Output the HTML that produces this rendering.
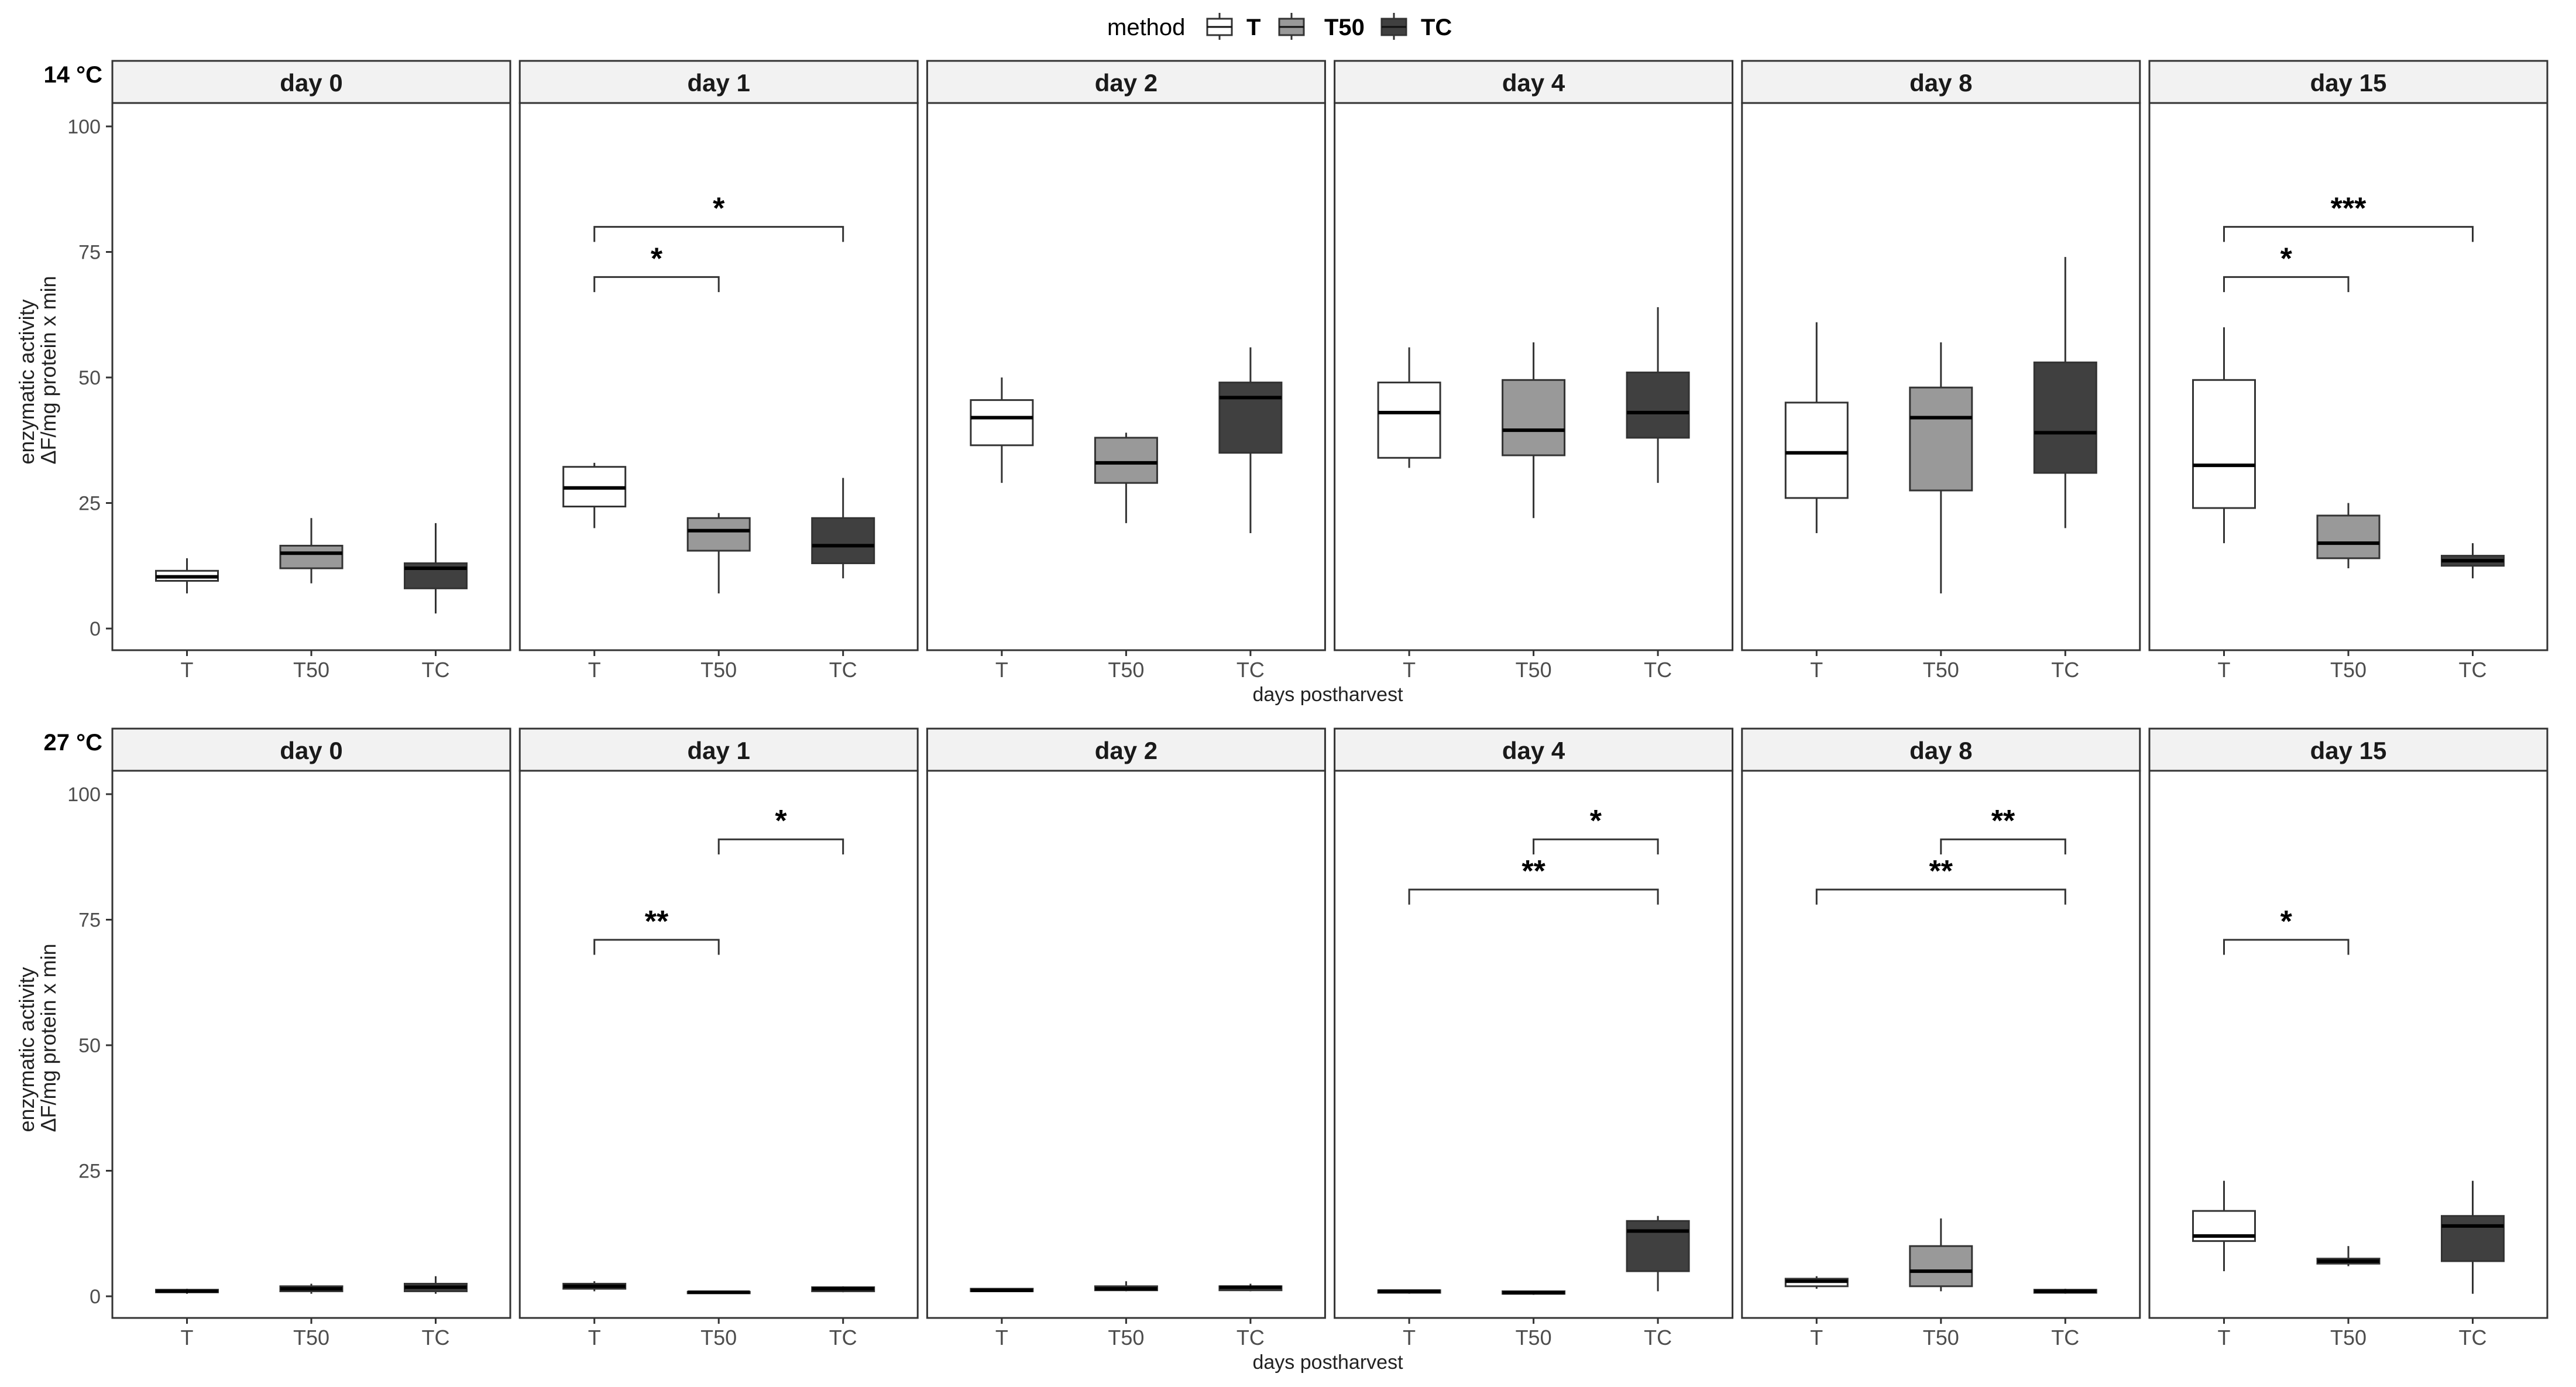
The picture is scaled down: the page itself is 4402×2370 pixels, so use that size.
<!DOCTYPE html>
<html><head><meta charset="utf-8"><style>
html,body{margin:0;padding:0;background:#fff;}
svg{display:block;font-family:"Liberation Sans",Arial,sans-serif;}
</style></head><body>
<svg id="chart" width="4402" height="2370" viewBox="0 0 4402 2370" xmlns="http://www.w3.org/2000/svg"></svg>
<script>
const days = ["day 0","day 1","day 2","day 4","day 8","day 15"];
const methods = ["T","T50","TC"];
const temps = ["14 °C","27 °C"];
const yTicks = [0,25,50,75,100];
// 14 °C: [day][method]
const lo14  = [[7,9,3],[20,7,10],[29,21,19],[32,22,29],[19,7,20],[17,12,10]];
const q1_14 = [[9.5,12,8],[24.3,15.5,13],[36.5,29,35],[34,34.5,38],[26,27.5,31],[24,14,12.5]];
const med14 = [[10.3,15,12],[28,19.5,16.5],[42,33,46],[43,39.5,43],[35,42,39],[32.5,17,13.5]];
const q3_14 = [[11.5,16.5,13],[32.2,22,22],[45.5,38,49],[49,49.5,51],[45,48,53],[49.5,22.5,14.5]];
const hi14  = [[14,22,21],[33,23,30],[50,39,56],[56,57,64],[61,57,74],[60,25,17]];
// 27 °C
const lo27  = [[0.5,0.5,0.5],[1,0.5,0.8],[1,1,1],[0.5,0.3,1],[1.5,1,0.5],[5,6,0.5]];
const q1_27 = [[0.8,1,1],[1.5,0.6,1],[1,1.2,1.2],[0.7,0.5,5],[2,2,0.7],[11,6.5,7]];
const med27 = [[1,1.5,1.8],[2,0.8,1.5],[1.2,1.5,1.8],[1,0.7,13],[3,5,1],[12,7,14]];
const q3_27 = [[1.3,2,2.5],[2.5,0.9,1.8],[1.5,2,2],[1.2,1,15],[3.5,10,1.3],[17,7.5,16]];
const hi27  = [[1.5,2.5,4],[3,1,2],[1.5,3,2.5],[1.2,1,16],[4,15.5,1.5],[23,10,23]];
// significance brackets
const sigRow   = [0,0,0,0,1,1,1,1,1,1,1];
const sigDay   = [1,1,5,5,1,1,3,3,4,4,5];
const sigFrom  = [0,0,0,0,0,1,0,1,0,1,0];
const sigTo    = [1,2,1,2,1,2,2,2,2,2,1];
const sigY     = [70,80,70,80,71,91,81,91,81,91,71];
const sigLabel = ["*","*","*","***","**","*","**","*","**","**","*"];

const svg = document.getElementById('chart');
const NS = "http://www.w3.org/2000/svg";
function mk(tag, attrs, parent, text){
  const e = document.createElementNS(NS, tag);
  for (const k in attrs) e.setAttribute(k, attrs[k]);
  if (text !== undefined) e.textContent = text;
  (parent||svg).appendChild(e);
  return e;
}
const fills = ["#ffffff","#999999","#404040"];
const PW = 680, PX0 = 192, PSTEP = 696.2;
const rowTop = [104, 1245];
const STRIP_H = 72;
const Y100 = [216, 1357], Y0 = [1074, 2215];
const PBOT = [1111, 2252];
function xPanel(d){ return PX0 + d*PSTEP; }
function xCat(d, m){ return xPanel(d) + PW*(0.6 + m)/3.2; }
function yVal(r, v){ return Y0[r] - (Y0[r]-Y100[r])*v/100; }
const BW = 106;

const lg = mk('g', {}, svg);


mk('text',{x:1892,y:60,'font-size':40,fill:'#000'},lg,'method');
const keyX = [2063,2186,2361], labX = [2130,2263,2428];
methods.forEach((m,i)=>{
  const g = mk('g',{},lg);
  
  
  mk('line',{x1:keyX[i]+21,x2:keyX[i]+21,y1:22,y2:68,stroke:'#333','stroke-width':3},g);
  mk('rect',{x:keyX[i],y:32,width:42,height:28,fill:fills[i],stroke:'#333','stroke-width':3},g);
  mk('line',{x1:keyX[i],x2:keyX[i]+42,y1:46,y2:46,stroke:'#111','stroke-width':3},g);
  mk('text',{x:labX[i],y:60,'font-size':40,'font-weight':'bold',fill:'#000'},g,m);
});

const los=[lo14,lo27], q1s=[q1_14,q1_27], meds=[med14,med27], q3s=[q3_14,q3_27], his=[hi14,hi27];

for (let r=0;r<2;r++){
  const t = mk('text',{x:175,y:rowTop[r]+37,'font-size':40,'font-weight':'bold','text-anchor':'end',fill:'#000'},svg,temps[r]);
  
  
  const cy = (rowTop[r]+STRIP_H+PBOT[r])/2;
  const yt = mk('text',{transform:`translate(58,${cy+150}) rotate(-90)`,'font-size':36,fill:'#222'},svg);
  
  
  mk('tspan',{x:0,y:0},yt,'enzymatic activity');
  mk('tspan',{x:0,y:37},yt,'ΔF/mg protein x min');
  yTicks.forEach(v=>{
    const y = yVal(r,v);
    const tl = mk('text',{x:172,y:y+12,'font-size':34,'text-anchor':'end',fill:'#4d4d4d'},svg,String(v));
    
    
    mk('line',{x1:181,x2:192,y1:y,y2:y,stroke:'#333','stroke-width':3},svg);
  });
  const xt = mk('text',{x:2269,y:PBOT[r]+87,'font-size':34,'text-anchor':'middle',fill:'#222'},svg,'days postharvest');
  
  

  for (let d=0; d<days.length; d++){
    const x0 = xPanel(d);
    const pg = mk('g',{},svg);
    
    
    const st = mk('rect',{x:x0,y:rowTop[r],width:PW,height:STRIP_H,fill:'#f2f2f2',stroke:'#333','stroke-width':3},pg);
    
    
    mk('text',{x:x0+PW/2,y:rowTop[r]+52,'font-size':42,'font-weight':'bold','text-anchor':'middle',fill:'#1a1a1a'},pg,days[d]);
    mk('rect',{x:x0,y:rowTop[r]+STRIP_H,width:PW,height:PBOT[r]-rowTop[r]-STRIP_H,fill:'#fff',stroke:'#333','stroke-width':3},pg);
    for (let m=0;m<3;m++){
      const cx = xCat(d,m);
      mk('line',{x1:cx,x2:cx,y1:PBOT[r],y2:PBOT[r]+10,stroke:'#333','stroke-width':3},pg);
      const xl = mk('text',{x:cx,y:PBOT[r]+46,'font-size':36,'text-anchor':'middle',fill:'#4d4d4d'},pg,methods[m]);
      
      
      const bg = mk('g',{},pg);
      
      
      const yl=yVal(r,los[r][d][m]), y1=yVal(r,q1s[r][d][m]), ym=yVal(r,meds[r][d][m]), y3=yVal(r,q3s[r][d][m]), yh=yVal(r,his[r][d][m]);
      mk('line',{x1:cx,x2:cx,y1:yh,y2:y3,stroke:'#333','stroke-width':3},bg);
      mk('line',{x1:cx,x2:cx,y1:y1,y2:yl,stroke:'#333','stroke-width':3},bg);
      mk('rect',{x:cx-BW/2,y:y3,width:BW,height:Math.max(y1-y3,0.5),fill:fills[m],stroke:'#333','stroke-width':3},bg);
      mk('line',{x1:cx-BW/2,x2:cx+BW/2,y1:ym,y2:ym,stroke:'#000','stroke-width':6},bg);
    }
  }
}
for (let i=0;i<sigRow.length;i++){
  const r=sigRow[i], d=sigDay[i];
  const xa=xCat(d,sigFrom[i]), xb=xCat(d,sigTo[i]);
  const y=yVal(r,sigY[i]), drop=yVal(r,sigY[i]-3);
  const g = mk('g',{},svg);
  
  
  mk('path',{d:`M${xa},${drop} L${xa},${y} L${xb},${y} L${xb},${drop}`,fill:'none',stroke:'#333','stroke-width':3},g);
  mk('text',{x:(xa+xb)/2,y:y-14,'font-size':52,'font-weight':'bold','text-anchor':'middle',fill:'#000'},g,sigLabel[i]);
}
</script>
</body></html>
